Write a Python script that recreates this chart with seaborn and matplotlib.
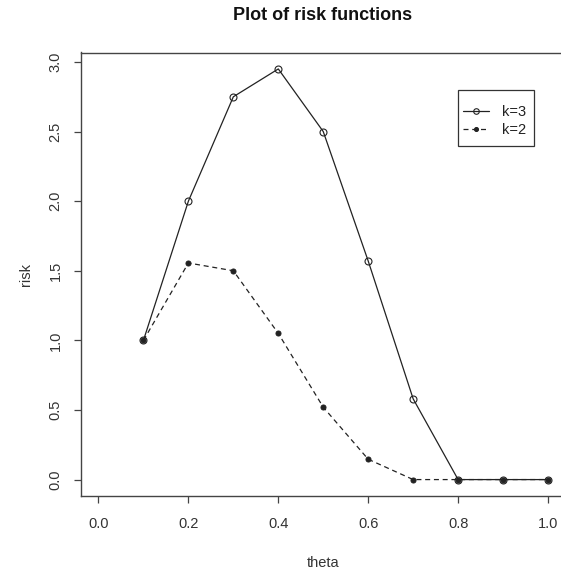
import matplotlib
matplotlib.use("Agg")
import matplotlib.pyplot as plt
from matplotlib.patches import Rectangle
import seaborn as sns
import pandas as pd

# Risk of the two estimators over the parameter grid
theta = [0.1, 0.2, 0.3, 0.4, 0.5, 0.6, 0.7, 0.8, 0.9, 1.0]
risk_k3 = [1.0, 2.0, 2.75, 2.95, 2.50, 1.57, 0.58, 0.0, 0.0, 0.0]
risk_k2 = [1.0, 1.556, 1.50, 1.05, 0.52, 0.146, 0.0, 0.0, 0.0, 0.0]
series_labels = ["k=3", "k=2"]
x_ticks = [0.0, 0.2, 0.4, 0.6, 0.8, 1.0]
y_ticks = [0.0, 0.5, 1.0, 1.5, 2.0, 2.5, 3.0]

sns.set_style("white")
plt.rcParams["font.family"] = ["Liberation Sans", "DejaVu Sans"]

W, H = 561, 573
fig = plt.figure(figsize=(W / 100, H / 100), dpi=100)
left, right, top, bottom = 80.5, 566.0, 52.5, 496.0
ax = fig.add_axes([left / W, 1 - bottom / H, (right - left) / W, (bottom - top) / H])

df = pd.DataFrame({"theta": theta, "k3": risk_k3, "k2": risk_k2})
ink = "#222222"

sns.lineplot(data=df, x="theta", y="k3", ax=ax, color=ink, lw=0.9,
             marker="o", markersize=5, markerfacecolor="none",
             markeredgecolor=ink, markeredgewidth=0.8, label=series_labels[0])
sns.lineplot(data=df, x="theta", y="k2", ax=ax, color=ink, lw=0.9,
             marker="o", markersize=3.6, markerfacecolor=ink,
             markeredgecolor=ink, label=series_labels[1])
ax.lines[1].set_dashes([4, 3])

# R-style axis ranges (4% padding around the data range)
xr = (0.0, 1.0)
yr = (min(min(risk_k3), min(risk_k2)), max(max(risk_k3), max(risk_k2)))
px = 0.04 * (xr[1] - xr[0])
py = 0.04 * (yr[1] - yr[0])
ax.set_xlim(xr[0] - px, xr[1] + px)
ax.set_ylim(yr[0] - py, yr[1] + py)

ax.set_xticks(x_ticks)
ax.set_xticklabels([f"{v:.1f}" for v in x_ticks])
ax.set_yticks(y_ticks)
ax.set_yticklabels([f"{v:.1f}" for v in y_ticks], rotation=90, va="center")
ax.tick_params(axis="both", which="major", bottom=True, left=True,
               direction="out", length=5, width=0.9,
               color="#444444", labelsize=10.5, labelcolor="#333333")
ax.tick_params(axis="x", pad=10)
ax.tick_params(axis="y", pad=8)

for s in ax.spines.values():
    s.set_visible(True)
    s.set_color("#444444")
    s.set_linewidth(1.0)

ax.set_xlabel("theta", fontsize=10.5, color="#333333", labelpad=18)
ax.set_ylabel("risk", fontsize=10.5, color="#333333", labelpad=11)
fig.text(323 / W, 1 - 16 / H, "Plot of risk functions", ha="center", va="center",
         fontsize=13, fontweight="bold", color="#111111")

# Legend entries without their own frame; a base-R style box is drawn around them
leg = ax.legend(loc="upper left", bbox_to_anchor=(463 / W, 1 - 105 / H),
                bbox_transform=fig.transFigure, borderaxespad=0, borderpad=0,
                frameon=False, fontsize=10.5, handlelength=1.75,
                handletextpad=0.9, labelspacing=0.3, markerscale=0.8)
for t in leg.get_texts():
    t.set_color("#222222")
fig.patches.append(Rectangle((458.3 / W, 1 - 146 / H), 76 / W, 56 / H,
                             transform=fig.transFigure, fill=False,
                             edgecolor="#333333", linewidth=0.9, zorder=5))

fig.savefig("out.png", dpi=100)
